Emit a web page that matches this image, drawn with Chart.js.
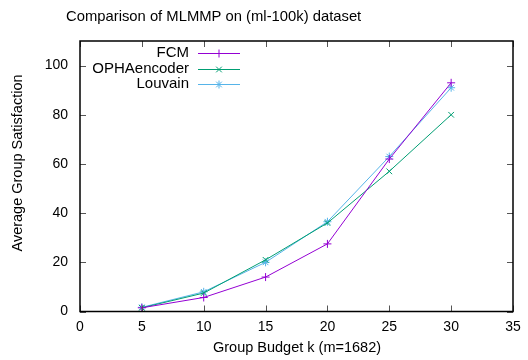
<!DOCTYPE html>
<html>
<head>
<meta charset="utf-8">
<script src="https://cdn.jsdelivr.net/npm/chart.js@4"></script>
<style>
  html, body { margin: 0; padding: 0; background: #fff; }
  #wrap { width: 528px; height: 360px; }
</style>
</head>
<body>
<div id="wrap"><canvas id="myChart" width="528" height="360"></canvas></div>
<script>
const budgets = [5, 10, 15, 20, 25, 30];
const fcmValues = [1.5, 5.7, 14, 27.5, 62, 93];
const ophaValues = [1.5, 7.5, 21, 36, 57, 80];
const louvainValues = [1.7, 8, 20, 36.5, 63, 91];
const seriesNames = ["FCM", "OPHAencoder", "Louvain"];
const seriesColors = ["#9400d3", "#009e73", "#56b4e9"];
const seriesMarkers = ["cross", "crossRot", "star"];
const xTicks = [0, 5, 10, 15, 20, 25, 30, 35];
const yTicks = [0, 20, 40, 60, 80, 100];

const FONT = "'Liberation Sans', Arial, sans-serif";

function toPoints(values) {
    return budgets.map((b, i) => ({ x: b, y: values[i] }));
}

const allValues = [fcmValues, ophaValues, louvainValues];
const datasets = allValues.map((vals, i) => ({
    label: seriesNames[i],
    data: toPoints(vals),
    borderColor: seriesColors[i],
    backgroundColor: seriesColors[i],
    borderWidth: 1,
    pointStyle: seriesMarkers[i],
    pointRadius: 4,
    pointBorderWidth: 1,
    pointHoverRadius: 4,
    fill: false,
    tension: 0
}));

// frame, inward ticks, titles and key drawn like gnuplot does
const gnuplotDecor = {
    id: "gnuplotDecor",
    afterDraw(chart) {
        const ctx = chart.ctx;
        const a = chart.chartArea;
        const xs = chart.scales.x, ys = chart.scales.y;
        ctx.save();

        // tick marks, pointing inward, mirrored on top and right
        ctx.strokeStyle = "#555";
        ctx.lineWidth = 1;
        const t = 6;
        ctx.beginPath();
        xTicks.forEach(v => {
            const px = Math.round(xs.getPixelForValue(v)) + 0.5;
            ctx.moveTo(px, a.bottom); ctx.lineTo(px, a.bottom - t);
            ctx.moveTo(px, a.top); ctx.lineTo(px, a.top + t);
        });
        yTicks.forEach(v => {
            const py = Math.round(ys.getPixelForValue(v)) + 0.5;
            ctx.moveTo(a.left, py); ctx.lineTo(a.left + t, py);
            ctx.moveTo(a.right, py); ctx.lineTo(a.right - t, py);
        });
        ctx.stroke();

        // border
        ctx.strokeStyle = "#000";
        ctx.lineWidth = 1.5;
        ctx.strokeRect(a.left, a.top, a.right - a.left, a.bottom - a.top);

        // titles
        ctx.fillStyle = "#000";
        ctx.textBaseline = "middle";
        ctx.font = "14.8px " + FONT;
        ctx.textAlign = "left";
        ctx.fillText("Comparison of MLMMP on (ml-100k) dataset", 66, 17);
        ctx.font = "14.5px " + FONT;
        ctx.textAlign = "center";
        ctx.fillText("Group Budget k (m=1682)", 297, 348);
        ctx.save();
        ctx.translate(18, 163);
        ctx.rotate(-Math.PI / 2);
        ctx.fillText("Average Group Satisfaction", 0, 0);
        ctx.restore();

        // key
        ctx.font = "15px " + FONT;
        const keyY = [53, 69, 84];
        seriesNames.forEach((name, i) => {
            const y = keyY[i];
            ctx.fillStyle = "#000";
            ctx.textAlign = "right";
            ctx.fillText(name, 189, y);
            ctx.strokeStyle = seriesColors[i];
            ctx.lineWidth = 1;
            ctx.beginPath();
            ctx.moveTo(198, y + 0.5);
            ctx.lineTo(240, y + 0.5);
            ctx.stroke();
            Chart.helpers.drawPoint(ctx, {
                pointStyle: seriesMarkers[i],
                radius: 4,
                borderWidth: 1,
                rotation: 0
            }, 219, y + 0.5);
        });
        ctx.restore();
    }
};

new Chart("myChart", {
    type: "line",
    data: { datasets: datasets },
    options: {
        responsive: false,
        animation: false,
        layout: { padding: { top: 41, right: 15, left: 0, bottom: 0 } },
        plugins: {
            legend: { display: false },
            title: { display: false },
            tooltip: { enabled: false }
        },
        scales: {
            x: {
                type: "linear",
                min: 0,
                max: 35,
                grid: { display: false, drawTicks: false },
                border: { display: false },
                ticks: {
                    stepSize: 5,
                    padding: 7,
                    color: "#000",
                    font: { family: FONT, size: 14 },
                    maxRotation: 0
                },
                afterFit(scale) { scale.height = 48.5; }
            },
            y: {
                type: "linear",
                min: 0,
                max: 110,
                grid: { display: false, drawTicks: false },
                border: { display: false },
                afterBuildTicks(scale) {
                    scale.ticks = yTicks.map(v => ({ value: v }));
                },
                ticks: {
                    padding: 12,
                    color: "#000",
                    font: { family: FONT, size: 14 }
                },
                afterFit(scale) { scale.width = 80; }
            }
        }
    },
    plugins: [gnuplotDecor]
});
</script>
</body>
</html>
